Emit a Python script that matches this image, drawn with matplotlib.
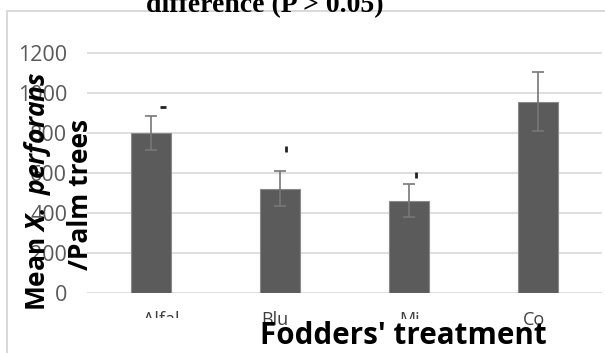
import numpy as np
import matplotlib.pyplot as plt
import matplotlib.transforms as mtransforms
from matplotlib.patches import Rectangle
from matplotlib.transforms import Bbox

plt.rcParams['font.family'] = ['Open Sans', 'DejaVu Sans']
plt.rcParams['mathtext.fontset'] = 'custom'
plt.rcParams['mathtext.bfit'] = 'Open Sans:italic:bold'
plt.rcParams['mathtext.it'] = 'Open Sans:italic'
plt.rcParams['mathtext.rm'] = 'Open Sans'

# mean counts per fodder treatment with their error
treatments = ['Alfal', 'Blu', 'Mi', 'Co']
means = [800, 520, 460, 955]
errors = [85, 87, 83, 147]
# height of the (cut off) significance letters above each bar
letter_y = [928, 720, 588, None]
letter_marks = ['_', '|', '|', None]

# small sideways shifts for letters and category names
letter_dx = [0.09, 0.05, 0.055, 0]
label_dx = [0.08, -0.04, 0.01, -0.03]

W, H = 605, 353
fig = plt.figure(figsize=(W / 100, H / 100), dpi=100)

# light frame round the chart area
fig.patches.append(Rectangle((7 / W, -0.1), 1.2, 1.1 - 11 / H,
                             transform=fig.transFigure, fill=False,
                             edgecolor='#d9d9d9', linewidth=1.4))

ax = fig.add_axes([86.5 / W, 1 - 292.7 / H, (602 - 86.5) / W, 250 / H])
x = np.arange(1, len(treatments) + 1)
ax.bar(x, means, width=0.31, color='#5b5b5b', edgecolor='#8a8a8a',
       linewidth=0.8, zorder=3)
ax.errorbar(x, means, yerr=errors, fmt='none', ecolor='#777777',
            elinewidth=1.2, capsize=4.5, capthick=1.2, zorder=4)
for xi, yi, m, dx in zip(x, letter_y, letter_marks, letter_dx):
    if yi is None:
        continue
    ax.plot(xi + dx, yi, marker=m, color='#222222', markersize=4,
            markeredgewidth=2, zorder=5)

ax.set_xlim(0.5, 4.5)
ax.set_ylim(0, 1250)
ax.set_yticks(range(0, 1201, 200))
ax.yaxis.grid(True, color='#d9d9d9', linewidth=1.2, zorder=0)
ax.set_axisbelow(True)
for s in ax.spines.values():
    s.set_visible(False)
ax.tick_params(axis='both', length=0)
ax.tick_params(axis='y', labelsize=15.5, labelcolor='#595959', pad=14)
ax.set_xticks([])

# category names, partly hidden in the original layout
clip_rows = {'Alfal': 318, 'Mi': 319}
trans = mtransforms.blended_transform_factory(ax.transData, fig.transFigure)
for xi, name, dx in zip(x, treatments, label_dx):
    t = ax.text(xi + dx, 1 - 311 / H, name, transform=trans, ha='center',
                va='top', fontsize=13, color='#404040', clip_on=False)
    cut = clip_rows.get(name)
    if cut is not None:
        t.set_clip_box(Bbox([[0, H - cut], [W, H]]))
        t.set_clip_on(True)

fig.text(265 / W, 1 - 11.7 / H, 'difference (P > 0.05)', ha='center',
         va='baseline', fontsize=20, fontweight='bold',
         family='Liberation Serif')

fig.text(38 / W, 1 - 191 / H, r'Mean $\mathbfit{X.\ perforans}$',
         rotation=90, ha='center', va='center', fontsize=19,
         fontweight='bold')
fig.text(80 / W, 1 - 194 / H, '/Palm trees', rotation=90, ha='center',
         va='center', fontsize=19, fontweight='bold')

fig.text(403 / W, 1 - 344 / H, "Fodders' treatment", ha='center',
         va='baseline', fontsize=21.3, fontweight='bold')

fig.savefig('out.png', dpi=100)
